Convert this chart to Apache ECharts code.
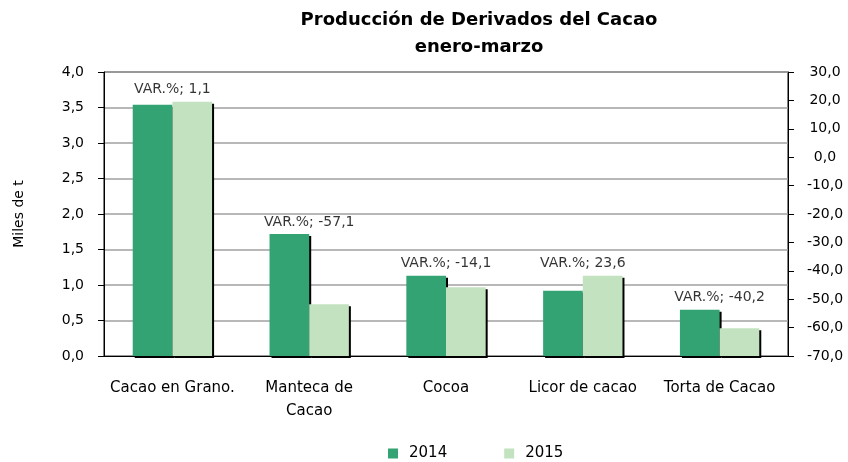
<!DOCTYPE html>
<html>
<head>
<meta charset="utf-8">
<script src="https://cdn.jsdelivr.net/npm/echarts@6/dist/echarts.min.js"></script>
<style>
  html, body { margin: 0; padding: 0; background: #fff; }
  #chart1 { width: 848px; height: 462px; }
</style>
</head>
<body>
<div id="chart1"></div>
<script>
// datos
var categorias = ['Cacao en Grano.', 'Manteca de\nCacao', 'Cocoa', 'Licor de cacao', 'Torta de Cacao'];
var serie2014 = [3.54, 1.72, 1.13, 0.92, 0.65];
var serie2015 = [3.58, 0.73, 0.97, 1.13, 0.39];
var variacion = ['1,1', '-57,1', '-14,1', '23,6', '-40,2'];
var ticksIzq = [0, 0.5, 1, 1.5, 2, 2.5, 3, 3.5, 4];
var ticksDer = [-70, -60, -50, -40, -30, -20, -10, 0, 10, 20, 30];

var fuente = 'DejaVu Sans, sans-serif';

// punto mas alto de cada grupo, para colocar la etiqueta VAR.%
var alturaEtiqueta = serie2014.map(function (v, i) { return Math.max(v, serie2015[i]); });

function coma(v) { return v.toFixed(1).replace('.', ','); }

var myChart = echarts.init(document.getElementById('chart1'));
myChart.setOption({
    animation: false,
    title: {
        text: 'Producción de Derivados del Cacao\nenero-marzo',
        left: 474,
        top: 2,
        textAlign: 'center',
        textStyle: { fontFamily: fuente, fontWeight: 'bold', fontSize: 18, lineHeight: 27, color: '#000' }
    },
    legend: {
        data: ['2014', '2015'],
        left: 383,
        top: 441,
        itemWidth: 10,
        itemHeight: 10,
        itemGap: 57,
        icon: 'rect',
        textStyle: { fontFamily: fuente, fontSize: 15, color: '#000', padding: [0, 0, 0, 6] }
    },
    grid: { left: 104, right: 60, top: 72, bottom: 106, show: true, borderColor: '#000', borderWidth: 1 },
    xAxis: [{
        type: 'category',
        data: categorias,
        offset: 6,
        axisLine: { lineStyle: { color: '#000', width: 1 } },
        axisTick: { inside: true, length: 6, lineStyle: { color: '#000' } },
        axisLabel: { fontFamily: fuente, fontSize: 15, color: '#000', margin: 15, lineHeight: 23, interval: 0 }
    }],
    yAxis: [{
        type: 'value',
        name: 'Miles de t',
        nameLocation: 'middle',
        nameGap: 78,
        nameTextStyle: { fontFamily: fuente, fontSize: 14, color: '#000' },
        min: ticksIzq[0],
        max: ticksIzq[ticksIzq.length - 1],
        interval: 0.5,
        axisLine: { show: true, lineStyle: { color: '#000' } },
        axisTick: { show: true, length: 6, lineStyle: { color: '#000' } },
        axisLabel: { fontFamily: fuente, fontSize: 14, color: '#000', margin: 20, formatter: coma },
        splitLine: { lineStyle: { color: '#a0a0a0', width: 1.5 } }
    }, {
        type: 'value',
        position: 'right',
        min: ticksDer[0],
        max: ticksDer[ticksDer.length - 1],
        interval: 10,
        axisLine: { show: true, lineStyle: { color: '#000' } },
        axisTick: { show: true, length: 6, lineStyle: { color: '#000' } },
        axisLabel: { fontFamily: fuente, fontSize: 14, color: '#000', margin: 37, align: 'center', formatter: coma },
        splitLine: { show: false }
    }],
    series: [{
        name: '2014',
        type: 'bar',
        data: serie2014,
        barGap: '0%',
        barCategoryGap: '42%',
        itemStyle: { color: '#33a373', shadowColor: '#000', shadowOffsetX: 2, shadowOffsetY: 2, shadowBlur: 0 }
    }, {
        name: '2015',
        type: 'bar',
        data: serie2015,
        itemStyle: { color: '#c3e3c0', shadowColor: '#000', shadowOffsetX: 2, shadowOffsetY: 2, shadowBlur: 0 }
    }, {
        name: 'VAR.%',
        type: 'scatter',
        data: alturaEtiqueta,
        symbolSize: 0,
        silent: true,
        label: {
            show: true,
            position: 'top',
            distance: 5,
            fontFamily: fuente,
            fontSize: 14,
            color: '#000',
            formatter: function (p) { return 'VAR.%; ' + variacion[p.dataIndex]; }
        }
    }]
});
</script>
</body>
</html>
